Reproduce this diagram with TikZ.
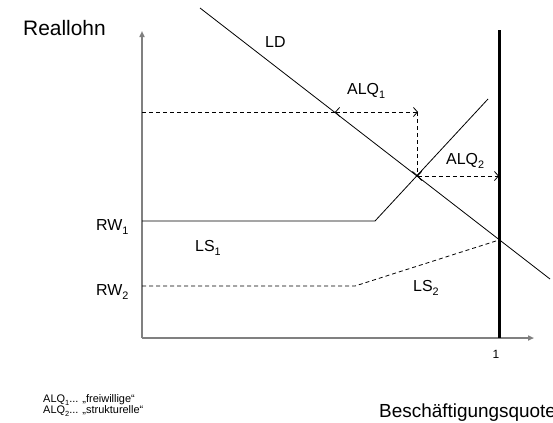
\documentclass[tikz,border=0pt]{standalone}
\usepackage{fontspec}
\setmainfont{Liberation Sans}
\usetikzlibrary{arrows.meta}
\newcommand\lsub[1]{\raisebox{-0.3em}{\scalebox{0.68}{#1}}}
\begin{document}
\begin{tikzpicture}[x=1bp,y=-1bp,
  lbl/.style={anchor=base west,inner sep=0pt,font=\fontsize{16}{18}\selectfont},
  axis/.style={draw=black!50,line width=1.6bp,-{Triangle[length=6bp,width=5bp]}},
  curve/.style={draw=black,line width=0.8bp},
  dcurve/.style={draw=black,line width=0.8bp,dash pattern=on 4bp off 3bp},
  barb/.tip={Straight Barb[length=4bp,width=9bp]}]
\useasboundingbox (0,0) rectangle (553,422);
% coordinates
\coordinate (O) at (142,338);
\coordinate (Ytop) at (142,31);
\coordinate (Xend) at (534,338);
\coordinate (Vt) at (499,30);
\coordinate (Vb) at (499,338);
\coordinate (LDa) at (200,8);
\coordinate (LDb) at (550,279);
\coordinate (S1a) at (142,221);
\coordinate (S1k) at (375,221);
\coordinate (S1b) at (488,99);
\coordinate (S2a) at (142,286);
\coordinate (S2k) at (355,286);
\coordinate (S2b) at (499,240);
\coordinate (Da) at (142,112);
\coordinate (Db) at (335,112);
\coordinate (Dc) at (418,112);
\coordinate (E) at (417,176);
\coordinate (Ev) at (417,112);
\coordinate (F) at (499,176);
% axes
\draw[axis] (O) -- (Ytop);
\draw[axis] (O) -- (Xend);
\draw[line width=3bp] (Vt) -- (Vb);
% curves
\draw[curve] (LDa) -- (LDb);
\draw[curve] (S1a) -- (S1k) -- (S1b);
\draw[dcurve] (S2a) -- (S2k) -- (S2b);
% ALQ arrows
\draw[dcurve] (Da) -- (Db);
\draw[dcurve,{barb}-{barb}] (Db) -- (Dc);
\draw[dcurve,-{barb}] (Ev) -- (E);
\draw[dcurve,{barb}-{barb}] (E) -- (F);
% labels
\node[lbl,font=\fontsize{21}{24}\selectfont] (reallohn) at (23,35) {Reallohn};
\node[lbl] (ld) at (265,47) {LD};
\node[lbl] (alq1) at (347,94) {ALQ\lsub{1}};
\node[lbl] (alq2) at (446,164) {ALQ\lsub{2}};
\node[lbl] (rw1) at (96,230) {RW\lsub{1}};
\node[lbl] (rw2) at (96,295) {RW\lsub{2}};
\node[lbl] (ls1) at (195,251) {LS\lsub{1}};
\node[lbl] (ls2) at (413,291) {LS\lsub{2}};
\node[anchor=base,inner sep=0pt,font=\fontsize{12}{14}\selectfont] (one) at (496,358) {1};
\node[lbl,font=\fontsize{19}{21}\selectfont] (bq) at (379,417) {Beschäftigungsquote};
\node[lbl,font=\fontsize{11}{12}\selectfont] (leg1) at (43,402) {ALQ\lsub{1}... „freiwillige“};
\node[lbl,font=\fontsize{11}{12}\selectfont] (leg2) at (43,413) {ALQ\lsub{2}... „strukturelle“};
\end{tikzpicture}
\end{document}
